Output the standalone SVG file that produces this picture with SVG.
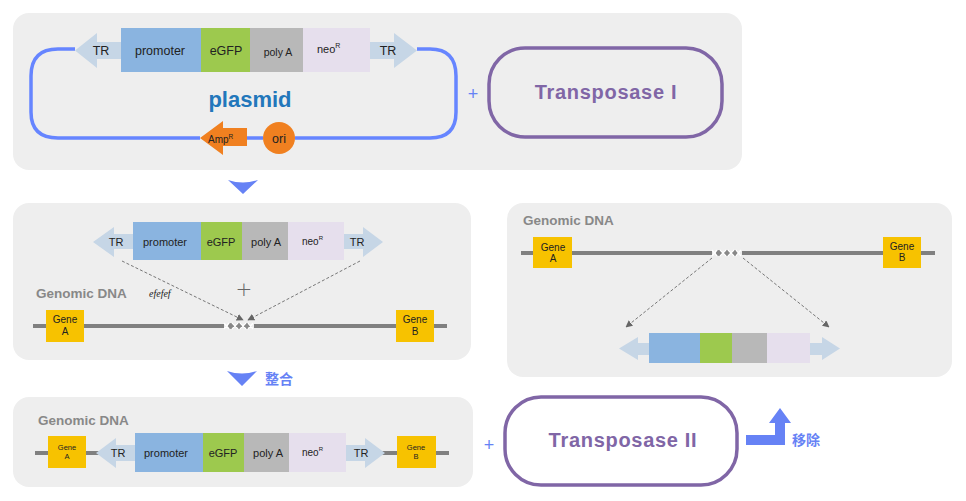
<svg xmlns="http://www.w3.org/2000/svg" xmlns:xlink="http://www.w3.org/1999/xlink" width="966" height="501" viewBox="0 0 966 501">
<style>
.panel{fill:#eeeeee}
.t{font-family:"Liberation Sans",Arial,sans-serif;fill:#222}
.tr{fill:#c6d6e6}
.pro{fill:#8ab4e0}
.gfp{fill:#9dc94e}
.pa{fill:#b8b8b8}
.neo{fill:#e6dfed}
.gene{fill:#f7c200}
.gd{font-family:"Liberation Sans",Arial,sans-serif;font-weight:bold;fill:#888;font-size:13.5px}
.dna{stroke:#808080;stroke-width:4}
.dash{stroke:#777;stroke-width:1;stroke-dasharray:3,2;fill:none}
.tp{fill:none;stroke:#8066a6;stroke-width:3.5}
.tpt{font-family:"Liberation Sans",Arial,sans-serif;font-weight:bold;fill:#8066a6;font-size:20px;letter-spacing:0.7px}
.blue{fill:#6682f5}
.cjk{font-family:"Liberation Sans","Noto Sans CJK SC",sans-serif;font-weight:bold;fill:#6682f5;font-size:14px}
</style>
<defs>
<marker id="ah" viewBox="0 0 10 10" refX="9" refY="5" markerWidth="7" markerHeight="7" orient="auto" markerUnits="userSpaceOnUse">
<path d="M0,0 L10,5 L0,10 z" fill="#666"/>
</marker>
<g id="xing">
<rect x="0" y="-2" width="30" height="4" fill="#eeeeee"/>
<circle cx="7" cy="0" r="3" fill="#888"/>
<circle cx="15" cy="0" r="3" fill="#888"/>
<circle cx="23" cy="0" r="3" fill="#888"/>
<path d="M0,-3 L5,3 M0,3 L5,-3 M8,-3 L14,3 M8,3 L14,-3 M16,-3 L22,3 M16,3 L22,-3 M24,-3 L29,3 M24,3 L29,-3" stroke="#fff" stroke-width="1.2"/>
</g>
</defs>

<!-- panels -->
<rect class="panel" x="13" y="13" width="729" height="157" rx="16"/>
<rect class="panel" x="13" y="203" width="458" height="157" rx="16"/>
<rect class="panel" x="507" y="203" width="445" height="174" rx="16"/>
<rect class="panel" x="13" y="397" width="460" height="90" rx="16"/>

<!-- plasmid node -->
<g id="plasmid">
<path d="M75,49 L58,49 Q31,49 31,76 L31,112 Q31,138 58,138 L200,138 M247,138 L263,138 M295,138 L430,138 Q456,138 456,112 L456,76 Q456,49 430,49 L417,49" fill="none" stroke="#6685ff" stroke-width="3.5"/>
<path class="tr" d="M121,42 L97,42 L97,33 L75,50.5 L97,68 L97,59 L121,59 z"/>
<rect class="pro" x="121" y="28" width="80" height="44"/>
<rect class="gfp" x="201" y="28" width="49" height="44"/>
<rect class="pa" x="250" y="28" width="53" height="44"/>
<rect class="neo" x="303" y="28" width="67" height="44"/>
<path class="tr" d="M370,42 L394,42 L394,33 L417,50.5 L394,68 L394,59 L370,59 z"/>
<text class="t" x="101" y="55" font-size="12.5" text-anchor="middle">TR</text>
<text class="t" x="160" y="55" font-size="12.5" text-anchor="middle">promoter</text>
<text class="t" x="226" y="55" font-size="12.5" text-anchor="middle">eGFP</text>
<text class="t" x="278" y="56" font-size="10.5" text-anchor="middle">poly A</text>
<text class="t" x="317" y="53" font-size="11">neo<tspan font-size="7" dy="-5">R</tspan></text>
<text class="t" x="388" y="55" font-size="12.5" text-anchor="middle">TR</text>
<text x="250" y="107" text-anchor="middle" font-family="Liberation Sans,Arial,sans-serif" font-weight="bold" font-size="22" fill="#2277bb">plasmid</text>
<path d="M247,128 L223,128 L223,121 L200,138 L223,155 L223,146 L247,146 z" fill="#f08020"/>
<text class="t" x="208" y="143" font-size="10">Amp<tspan font-size="6.5" dy="-4">R</tspan></text>
<circle cx="279" cy="138" r="16" fill="#f08020"/>
<text class="t" x="279" y="143" font-size="12.5" text-anchor="middle">ori</text>
</g>
<text x="473" y="100" text-anchor="middle" font-family="Liberation Sans,Arial,sans-serif" font-size="18" fill="#6682f5">+</text>
<g id="transposase1">
<rect class="tp" x="489" y="48" width="233" height="89" rx="36"/>
<text class="tpt" x="606" y="99" text-anchor="middle">Transposase I</text>
</g>

<!-- step arrow 1 -->
<path class="blue" d="M228,180 Q243,185 258,180 L243,194 z"/>

<!-- middle-left: cassette insertion -->
<g id="cassette2">
<path class="tr" d="M133,234 L114,234 L114,227 L93,242 L114,257 L114,249 L133,249 z"/>
<rect class="pro" x="133" y="222" width="68" height="38"/>
<rect class="gfp" x="201" y="222" width="41" height="38"/>
<rect class="pa" x="242" y="222" width="46" height="38"/>
<rect class="neo" x="288" y="222" width="56" height="38"/>
<path class="tr" d="M344,234 L363,234 L363,227 L383,242 L363,257 L363,249 L344,249 z"/>
<text class="t" x="116" y="246" font-size="11" text-anchor="middle">TR</text>
<text class="t" x="165" y="246" font-size="11" text-anchor="middle">promoter</text>
<text class="t" x="221" y="246" font-size="11" text-anchor="middle">eGFP</text>
<text class="t" x="266" y="246" font-size="11" text-anchor="middle">poly A</text>
<text class="t" x="302" y="245" font-size="10">neo<tspan font-size="6" dy="-5">R</tspan></text>
<text class="t" x="357" y="246" font-size="11" text-anchor="middle">TR</text>
</g>
<text class="gd" x="36" y="298">Genomic DNA</text>
<text x="149" y="297" font-family="Liberation Serif,serif" font-style="italic" font-size="10" fill="#222">efefef</text>
<text x="244" y="296" text-anchor="middle" font-family="DejaVu Sans,sans-serif" font-weight="200" font-size="20" fill="#666">+</text>
<g id="genome2">
<line class="dna" x1="33" y1="326" x2="447" y2="326"/>
<use xlink:href="#xing" x="224" y="326"/>
<rect class="gene" x="46" y="310" width="38" height="32"/>
<text class="t" x="65" y="323" font-size="10" text-anchor="middle">Gene</text>
<text class="t" x="65" y="335" font-size="10" text-anchor="middle">A</text>
<rect class="gene" x="396" y="310" width="38" height="32"/>
<text class="t" x="415" y="323" font-size="10" text-anchor="middle">Gene</text>
<text class="t" x="415" y="335" font-size="10" text-anchor="middle">B</text>
</g>

<!-- middle-right: excision -->
<text class="gd" x="523" y="225">Genomic DNA</text>
<g id="genome3">
<line class="dna" x1="521" y1="253" x2="935" y2="253"/>
<use xlink:href="#xing" x="712" y="253"/>
<rect class="gene" x="533" y="237" width="39" height="31"/>
<text class="t" x="553" y="251" font-size="10" text-anchor="middle">Gene</text>
<text class="t" x="553" y="262" font-size="10" text-anchor="middle">A</text>
<rect class="gene" x="883" y="237" width="38" height="31"/>
<text class="t" x="902" y="250" font-size="10" text-anchor="middle">Gene</text>
<text class="t" x="902" y="261" font-size="10" text-anchor="middle">B</text>
</g>
<g id="cassette3">
<path class="tr" d="M649,343 L638,343 L638,337 L619,348.5 L638,360 L638,355 L649,355 z"/>
<rect class="pro" x="649" y="333" width="51" height="30"/>
<rect class="gfp" x="700" y="333" width="32" height="30"/>
<rect class="pa" x="732" y="333" width="35" height="30"/>
<rect class="neo" x="767" y="333" width="43" height="30"/>
<path class="tr" d="M810,343 L822,343 L822,337 L840,348.5 L822,360 L822,355 L810,355 z"/>
</g>

<!-- connectors -->
<g id="connectors">
<line class="dash" x1="122" y1="261" x2="243" y2="320" marker-end="url(#ah)"/>
<line class="dash" x1="360" y1="261" x2="248" y2="320" marker-end="url(#ah)"/>
<line class="dash" x1="712" y1="258" x2="626" y2="327" marker-end="url(#ah)"/>
<line class="dash" x1="743" y1="258" x2="829" y2="327" marker-end="url(#ah)"/>
</g>

<!-- step arrow 2 -->
<path class="blue" d="M227,371 Q242,376 257,371 L242,386 z"/>
<text class="cjk" x="265" y="384">整合</text>

<!-- bottom: integrated -->
<text class="gd" x="38" y="425">Genomic DNA</text>
<g id="genome4">
<line class="dna" x1="35" y1="453" x2="449" y2="453"/>
<rect class="gene" x="48" y="436" width="38" height="32"/>
<text class="t" x="67" y="450" font-size="7.5" text-anchor="middle">Gene</text>
<text class="t" x="67" y="459" font-size="7.5" text-anchor="middle">A</text>
<rect class="gene" x="397" y="436" width="39" height="32"/>
<text class="t" x="416" y="450" font-size="7.5" text-anchor="middle">Gene</text>
<text class="t" x="416" y="459" font-size="7.5" text-anchor="middle">B</text>
</g>
<g id="cassette4">
<path class="tr" d="M135,445 L116,445 L116,438 L96,453 L116,468 L116,461 L135,461 z"/>
<rect class="pro" x="135" y="433" width="68" height="39"/>
<rect class="gfp" x="203" y="433" width="41" height="39"/>
<rect class="pa" x="244" y="433" width="45" height="39"/>
<rect class="neo" x="289" y="433" width="57" height="39"/>
<path class="tr" d="M346,445 L365,445 L365,438 L385,453 L365,468 L365,461 L346,461 z"/>
<text class="t" x="118" y="457" font-size="11" text-anchor="middle">TR</text>
<text class="t" x="166" y="457" font-size="11" text-anchor="middle">promoter</text>
<text class="t" x="223" y="457" font-size="11" text-anchor="middle">eGFP</text>
<text class="t" x="268" y="457" font-size="11" text-anchor="middle">poly A</text>
<text class="t" x="302" y="456" font-size="10">neo<tspan font-size="6" dy="-5">R</tspan></text>
<text class="t" x="361" y="457" font-size="11" text-anchor="middle">TR</text>
</g>
<text x="489" y="451" text-anchor="middle" font-family="Liberation Sans,Arial,sans-serif" font-size="18" fill="#6682f5">+</text>
<g id="transposase2">
<rect class="tp" x="505" y="397" width="232" height="88" rx="36"/>
<text class="tpt" x="623" y="447" text-anchor="middle">Transposase II</text>
</g>
<path class="blue" d="M746,435 L775,435 L775,423 L769,423 L780,408 L791,423 L785,423 L785,445 L746,445 z"/>
<text class="cjk" x="792" y="445" font-size="13">移除</text>
</svg>
